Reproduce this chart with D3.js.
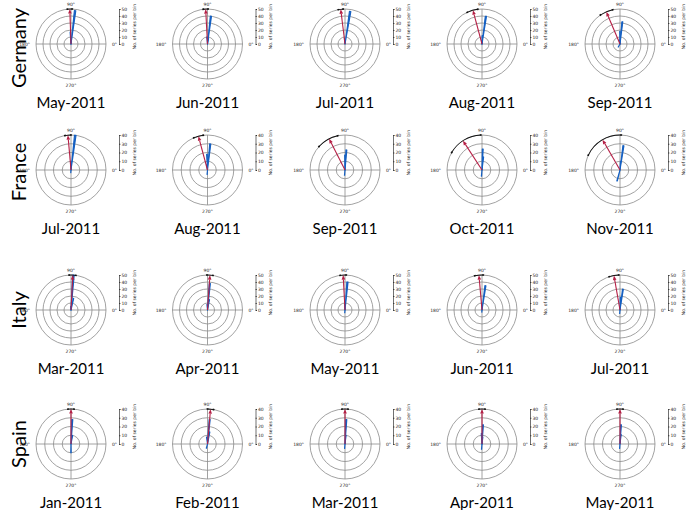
<!DOCTYPE html>
<html><head><meta charset="utf-8">
<script src="https://cdn.jsdelivr.net/npm/d3@7"></script>
<style>body{margin:0;background:#fff}svg{display:block}</style>
</head><body>
<svg id="c" width="690" height="510"></svg>
<script>
const countries = ["Germany", "France", "Italy", "Spain"];
const months = [
  ["May-2011", "Jun-2011", "Jul-2011", "Aug-2011", "Sep-2011"],
  ["Jul-2011", "Aug-2011", "Sep-2011", "Oct-2011", "Nov-2011"],
  ["Mar-2011", "Apr-2011", "May-2011", "Jun-2011", "Jul-2011"],
  ["Jan-2011", "Feb-2011", "Mar-2011", "Apr-2011", "May-2011"]
];
const radialMax = [50, 40, 50, 40];
const radialTicks = [[0,10,20,30,40,50],[0,10,20,30,40],[0,10,20,30,40,50],[0,10,20,30,40]];
const angleLabels = [{a:90,t:"90°"},{a:180,t:"180°"},{a:0,t:"0°"},{a:270,t:"270°"}];
// histogram bins: [angle (deg, ccw from east), count]
const germanyBins = [
  [[83,48],[93,17],[88,6]],
  [[83,40],[95,10],[80,8]],
  [[81,47],[95,8]],
  [[82,40],[88,12],[95,5]],
  [[84,32],[90,18],[240,5],[100,6]]
];
const franceBins = [
  [[83,40],[90,10],[265,3]],
  [[84,30],[92,18],[100,6],[265,5]],
  [[86,23],[90,17],[265,6]],
  [[88,24],[84,15],[265,7]],
  [[82,28],[86,10],[255,13]]
];
const italyBins = [
  [[86,50],[78,17],[95,5]],
  [[85,38],[80,15],[95,8]],
  [[85,40],[92,8],[265,4]],
  [[82,35],[90,8],[265,3]],
  [[82,30],[88,18],[265,5]]
];
const spainBins = [
  [[87,28],[80,10],[270,10]],
  [[85,28],[80,14],[97,8],[255,5]],
  [[87,28],[84,10],[265,5]],
  [[87,22],[93,12],[84,8],[265,6]],
  [[87,22],[84,11],[265,5]]
];
const allBins = [germanyBins, franceBins, italyBins, spainBins];
const meanAngle = [[92,93,97,105,113],[95,105,117,123,120],[87,86,93,95,100],[90,85,90,90,90]];
const ciLow = [[88,89,93,97,102],[90,97,102,92,88],[82,81,88,88,92],[85,80,85,85,85]];
const ciHigh = [[96,97,101,115,124],[100,113,138,150,155],[93,91,98,102,108],[95,90,95,95,95]];

const svg = d3.select("#c");
const R = 35;
const colX = [71, 207.5, 345, 482, 620];
const rowY = [44, 170, 310, 444];
const rowLabelY = [48, 172, 310, 444];
const binW = 2.5;
const rad = d => d * Math.PI / 180;
const blue = "#1560c2", red = "#b51f45", grid = "#8a8a8a";

countries.forEach((country, ri) => {
  const cy = rowY[ri];
  const ly = rowLabelY[ri];
  svg.append("text").attr("x", 18).attr("y", ly)
    .attr("transform", `rotate(-90,18,${ly})`)
    .attr("text-anchor", "middle").attr("dominant-baseline", "central")
    .attr("font-family", "Lato, 'Open Sans', sans-serif").attr("font-size", 20)
    .text(country);
  const r = d3.scaleLinear().domain([0, radialMax[ri]]).range([0, R]);
  months[ri].forEach((m, ci) => {
    const cx = colX[ci];
    const g = svg.append("g").attr("transform", `translate(${cx},${cy})`);
    // rings
    radialTicks[ri].filter(t => t > 0).forEach(t => {
      g.append("circle").attr("r", r(t)).attr("fill", "none")
        .attr("stroke", grid).attr("stroke-width", 0.8);
    });
    g.append("line").attr("x1", -R).attr("x2", R).attr("y1", 0).attr("y2", 0)
      .attr("stroke", grid).attr("stroke-width", 0.8);
    g.append("line").attr("y1", -R).attr("y2", R).attr("x1", 0).attr("x2", 0)
      .attr("stroke", grid).attr("stroke-width", 0.8);
    // angle labels
    angleLabels.forEach(l => {
      const x = (R + 5) * Math.cos(rad(l.a)), y = -(R + 4) * Math.sin(rad(l.a));
      g.append("text").attr("x", l.a === 180 ? x - 1 : (l.a === 0 ? x + 1 : x))
        .attr("y", y + (l.a === 270 ? 2 : (l.a === 90 ? -1 : 0)))
        .attr("text-anchor", l.a === 180 ? "end" : (l.a === 0 ? "start" : "middle"))
        .attr("dominant-baseline", "central")
        .attr("font-family", "DejaVu Sans, sans-serif").attr("font-size", 4.5)
        .attr("fill", "#222").text(l.t);
    });
    // bars
    const arc = d3.arc().innerRadius(0);
    allBins[ri][ci].forEach(([a, c]) => {
      g.append("path").attr("d", arc({
        outerRadius: r(c),
        startAngle: rad(90 - a - binW / 2),
        endAngle: rad(90 - a + binW / 2)
      })).attr("fill", blue).attr("stroke", blue).attr("stroke-width", 1.1)
        .attr("stroke-linejoin", "round");
    });
    // CI arc
    const lo = ciLow[ri][ci], hi = ciHigh[ri][ci];
    g.append("path").attr("d", d3.arc()({
      innerRadius: R - 0.4, outerRadius: R + 0.4,
      startAngle: rad(90 - hi), endAngle: rad(90 - lo)
    })).attr("fill", "#111");
    [lo, hi].forEach(e => {
      g.append("path").attr("d", d3.arc()({
        innerRadius: R - 0.8, outerRadius: R + 0.8,
        startAngle: rad(90 - e - 1.5), endAngle: rad(90 - e + 1.5)
      })).attr("fill", "#111");
    });
    // mean arrow
    const ma = rad(meanAngle[ri][ci]);
    const tipX = r(radialMax[ri]) * Math.cos(ma), tipY = -r(radialMax[ri]) * Math.sin(ma);
    const baseL = R - 4.5;
    g.append("line").attr("x1", 0).attr("y1", 0)
      .attr("x2", baseL * Math.cos(ma)).attr("y2", -baseL * Math.sin(ma))
      .attr("stroke", red).attr("stroke-width", 1.1);
    const px = -Math.sin(ma), py = -Math.cos(ma);
    const bx = baseL * Math.cos(ma), by = -baseL * Math.sin(ma);
    g.append("path").attr("d",
      `M${tipX},${tipY}L${bx + 1.8 * px},${by + 1.8 * py}L${bx - 1.8 * px},${by - 1.8 * py}Z`)
      .attr("fill", red);
    // radial axis
    const ax = g.append("g").attr("transform", `translate(${R + 13},0)`);
    const yAxis = d3.scaleLinear().domain([0, radialMax[ri]]).range([0, -R]);
    ax.call(d3.axisRight(yAxis).tickValues(radialTicks[ri]).tickSize(1.5).tickPadding(1))
      .call(s => s.select(".domain").attr("stroke-width", 0.6).attr("stroke", "#111"))
      .call(s => s.selectAll(".tick line").attr("stroke-width", 0.6).attr("stroke", "#111"))
      .call(s => s.selectAll("text").attr("font-size", 4.5).attr("fill", "#222")
        .attr("font-family", "DejaVu Sans, sans-serif"));
    ax.append("text").attr("transform", `translate(15,${-R / 2}) rotate(-90)`)
      .attr("text-anchor", "middle").attr("dominant-baseline", "central")
      .attr("font-family", "DejaVu Sans, sans-serif").attr("font-size", 4.5)
      .attr("fill", "#222").text("No. of series per bin");
    // month label
    svg.append("text").attr("x", cx).attr("y", cy + 58)
      .attr("text-anchor", "middle").attr("dominant-baseline", "central")
      .attr("font-family", "Lato, 'Open Sans', sans-serif").attr("font-size", 15)
      .text(m);
  });
});
</script>
</body></html>
